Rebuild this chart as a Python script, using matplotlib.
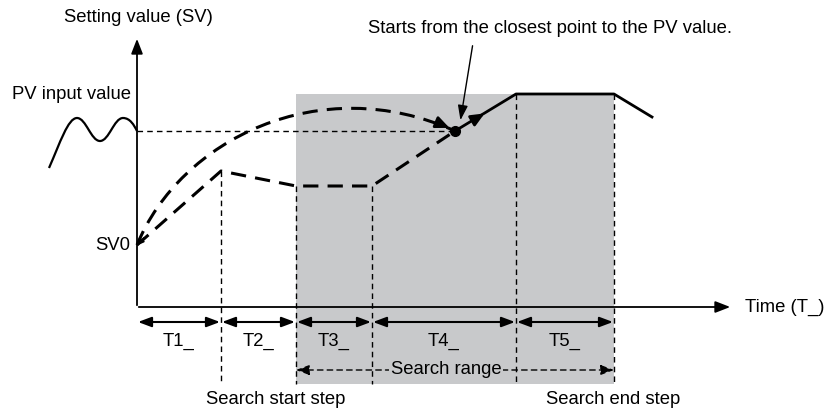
import matplotlib.pyplot as plt
from matplotlib.path import Path
from matplotlib.patches import PathPatch, Rectangle

plt.rcParams['font.family'] = ['Liberation Sans', 'DejaVu Sans']

# diagram coordinates (pixel-like units, y grows downward)
origin = (137, 307)
y_top = 36
x_end = 733
step_x = [137, 221, 296, 372, 516, 614]
step_labels = ['T1_', 'T2_', 'T3_', 'T4_', 'T5_']
search_lo, search_hi = 296, 614
shade_top, shade_bot = 94, 384
sv0_y = 245
pv_y = 131
# PV input wave as bezier control points (start, rise, peak, trough, peak, end)
pv_ctrl = [(49, 168), (60, 143), (68, 118), (77, 118),
           (86, 118), (91, 141), (100, 141),
           (109, 141), (114, 118), (123, 118),
           (130, 118), (134, 125), (137, 131)]
upper_ctrl = [(137, 245), (180, 140), (320, 70), (455, 131)]
lower_x = [137, 221, 296, 372, 455]
lower_v = [245, 171, 186, 186, 131]
solid_x = [455, 516, 614, 652]
solid_v = [131, 94, 94, 117]
dot = (455, 131)
vline_tops = [None, 171, 186, 186, 94, 94]
FS = 13.3

fig = plt.figure(figsize=(8.28, 4.12), dpi=100)
ax = fig.add_axes([0, 0, 1, 1])
ax.set_xlim(0, 828)
ax.set_ylim(412, 0)
ax.axis('off')

ax.add_patch(Rectangle((search_lo, shade_top), search_hi - search_lo, shade_bot - shade_top,
                       facecolor='#c8c9cb', edgecolor='none', zorder=0))

k = 'black'
# axes
ax.annotate('', xy=(origin[0], y_top), xytext=(origin[0], origin[1] + 1),
            arrowprops=dict(arrowstyle='-|>,head_length=0.9,head_width=0.35', color=k, lw=1.3))
ax.annotate('', xy=(x_end, origin[1]), xytext=(origin[0] - 1, origin[1]),
            arrowprops=dict(arrowstyle='-|>,head_length=0.9,head_width=0.35', color=k, lw=1.3))

# vertical step lines
for x, top in zip(step_x[1:], vline_tops[1:]):
    ax.plot([x, x], [top, shade_bot], color=k, lw=1, ls=(0, (4, 3)), zorder=2)

# PV dotted line
ax.plot([origin[0], dot[0]], [pv_y, pv_y], color=k, lw=1, ls=(0, (4, 3)), zorder=2)

# PV input value curve
pv_path = Path(pv_ctrl, [Path.MOVETO] + [Path.CURVE4] * (len(pv_ctrl) - 1))
ax.add_patch(PathPatch(pv_path, facecolor='none', edgecolor=k, lw=1.6))

# upper dashed curve
up = Path(upper_ctrl, [Path.MOVETO, Path.CURVE4, Path.CURVE4, Path.CURVE4])
ax.add_patch(PathPatch(up, facecolor='none', edgecolor=k, lw=2.2, ls=(0, (5, 3)), zorder=3))
ax.annotate('', xy=(dot[0] - 3, dot[1] - 2), xytext=(438, 123),
            arrowprops=dict(arrowstyle='-|>,head_length=0.8,head_width=0.35', color=k, lw=2))

# lower dashed polyline and solid continuation
ax.plot(lower_x, lower_v, color=k, lw=2.2, ls=(0, (5, 3)), zorder=3)
ax.plot(solid_x, solid_v, color=k, lw=2, zorder=3)
ax.annotate('', xy=(487, 112), xytext=(470, 122),
            arrowprops=dict(arrowstyle='-|>,head_length=0.8,head_width=0.35', color=k, lw=2))
ax.plot(*dot, 'o', color=k, ms=7, zorder=4)

# small arrowhead at SV0
ax.annotate('', xy=(origin[0] + 1, sv0_y), xytext=(144, 238),
            arrowprops=dict(arrowstyle='->,head_length=0.3,head_width=0.15', color=k, lw=1.4,
                            shrinkA=0, shrinkB=0))

# annotation
ax.annotate('', xy=(460, 123), xytext=(473, 43),
            arrowprops=dict(arrowstyle='-|>,head_length=0.9,head_width=0.3', color=k, lw=1))
ax.text(368, 28, 'Starts from the closest point to the PV value.', fontsize=FS, va='center', ha='left')

# step arrows and labels
arr_y = 322
for i, lab in enumerate(step_labels):
    a, b = step_x[i], step_x[i + 1]
    ax.annotate('', xy=(b - 1, arr_y), xytext=(a + 1, arr_y),
                arrowprops=dict(arrowstyle='<|-|>,head_length=0.8,head_width=0.3', color=k, lw=1.5,
                                shrinkA=0, shrinkB=0))
    ax.text((a + b) / 2, 341, lab, fontsize=FS, ha='center', va='center')

# search range
ax.annotate('', xy=(search_hi, 370), xytext=(search_lo, 370),
            arrowprops=dict(arrowstyle='<|-|>,head_length=0.8,head_width=0.3', color=k, lw=1,
                            ls=(0, (4, 3)), shrinkA=0, shrinkB=0))
ax.text(446, 369, 'Search range', fontsize=FS, ha='center', va='center',
        bbox=dict(facecolor='#c8c9cb', edgecolor='none', pad=1))

ax.text(276, 400, 'Search start step', fontsize=FS, ha='center', va='center')
ax.text(613, 400, 'Search end step', fontsize=FS, ha='center', va='center')
ax.text(745, 307, 'Time (T_)', fontsize=FS, ha='left', va='center')
ax.text(64, 17, 'Setting value (SV)', fontsize=FS, ha='left', va='center')
ax.text(12, 94, 'PV input value', fontsize=FS, ha='left', va='center')
ax.text(130, sv0_y, 'SV0', fontsize=FS, ha='right', va='center')

fig.savefig('out.png', dpi=100)
